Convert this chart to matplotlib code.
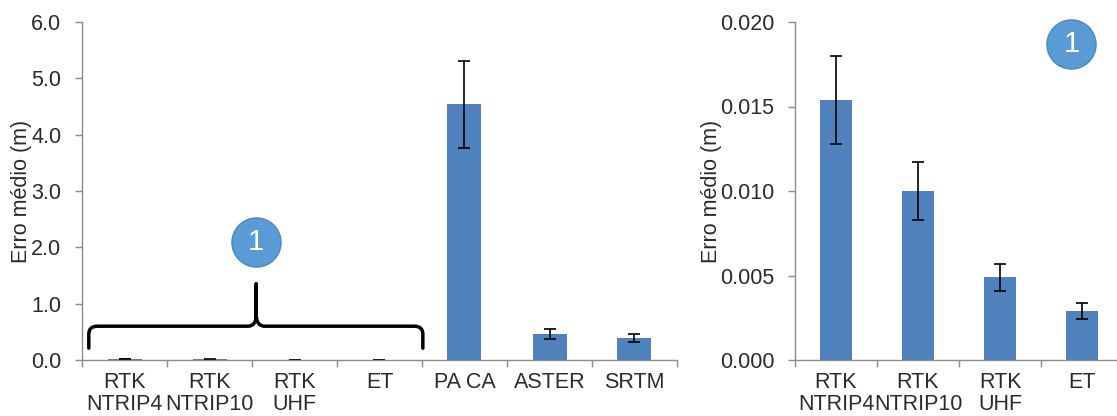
import numpy as np
import matplotlib.pyplot as plt
from matplotlib.path import Path
from matplotlib.patches import PathPatch

# dados (erro médio em metros e desvio)
left_labels = ['RTK\nNTRIP4', 'RTK\nNTRIP10', 'RTK\nUHF', 'ET', 'PA CA', 'ASTER', 'SRTM']
left_values = [0.0154, 0.0100, 0.0049, 0.0029, 4.54, 0.46, 0.39]
left_errors = [0.0026, 0.0017, 0.0008, 0.0005, 0.77, 0.09, 0.07]
left_yticks = [0, 1, 2, 3, 4, 5, 6]

right_labels = ['RTK\nNTRIP4', 'RTK\nNTRIP10', 'RTK\nUHF', 'ET']
right_values = [0.0154, 0.0100, 0.0049, 0.0029]
right_errors = [0.0026, 0.0017, 0.0008, 0.0005]
right_yticks = [0.000, 0.005, 0.010, 0.015, 0.020]

bar_color = '#4f81bd'
circle_color = '#5b9bd5'
text_color = '#2b2b2b'
axis_color = '#8c8c8c'

plt.rcParams['font.family'] = ['Liberation Sans', 'DejaVu Sans']
plt.rcParams['font.size'] = 15.5


def style_axes(ax, labels, values, errors, yticks, ymax, fmt):
    x = np.arange(len(labels))
    ax.bar(x, values, width=0.4, color=bar_color, yerr=errors,
           error_kw=dict(ecolor='black', elinewidth=1.2, capsize=4, capthick=1.2))
    ax.set_ylim(0, ymax)
    ax.set_yticks(yticks)
    ax.set_yticklabels([fmt.format(v) for v in yticks], color=text_color)
    # ticks nos limites das categorias, rótulos no centro
    ax.set_xticks(np.arange(len(labels) + 1) - 0.5)
    ax.set_xticklabels([])
    ax.set_xticks(x, minor=True)
    ax.set_xticklabels(labels, minor=True, color=text_color, linespacing=1.0)
    ax.tick_params(axis='x', which='major', length=5, color=axis_color, width=1)
    ax.tick_params(axis='x', which='minor', length=0, pad=9)
    ax.tick_params(axis='y', length=5, color=axis_color, width=1, pad=10)
    ax.set_xlim(-0.5, len(labels) - 0.5)
    for s in ['top', 'right']:
        ax.spines[s].set_visible(False)
    for s in ['left', 'bottom']:
        ax.spines[s].set_color(axis_color)
        ax.spines[s].set_linewidth(1)
    ax.set_ylabel('Erro médio (m)', color=text_color)


fig = plt.figure(figsize=(11.17, 4.16), dpi=100)
ax1 = fig.add_axes([82 / 1117, 56 / 416, 595 / 1117, 338 / 416])
ax2 = fig.add_axes([795 / 1117, 56 / 416, 328 / 1117, 338 / 416])

style_axes(ax1, left_labels, left_values, left_errors, left_yticks, 6, '{:.1f}')
style_axes(ax2, right_labels, right_values, right_errors, right_yticks, 0.020, '{:.3f}')
ax1.yaxis.set_label_coords(-0.084, 0.5)
ax2.yaxis.set_label_coords(-0.2226, 0.5)

# chave sobre os quatro primeiros métodos
x0, x1, xc = -0.42, 3.51, 1.55
yb, yh, yt = 0.21, 0.60, 1.35
verts = [(x0, yb), (x0, yh - 0.14), (x0, yh), (x0 + 0.1, yh),
         (xc - 0.1, yh), (xc, yh), (xc, yh + 0.2), (xc, yt),
         (xc, yh + 0.2), (xc, yh), (xc + 0.1, yh),
         (x1 - 0.1, yh), (x1, yh), (x1, yh - 0.14), (x1, yb)]
codes = [Path.MOVETO, Path.LINETO, Path.CURVE3, Path.CURVE3,
         Path.LINETO, Path.CURVE3, Path.CURVE3, Path.LINETO,
         Path.LINETO, Path.CURVE3, Path.CURVE3,
         Path.LINETO, Path.CURVE3, Path.CURVE3, Path.LINETO]
ax1.add_patch(PathPatch(Path(verts, codes), fill=False, edgecolor='black',
                        lw=2.5, capstyle='round', joinstyle='round'))

# marcadores "1"
for ax, cx, cy in [(ax1, 1.55, 2.09), (ax2, 2.87, 0.0187)]:
    ax.scatter([cx], [cy], s=1250, color=circle_color, edgecolor='#4a88c4',
               linewidth=1, zorder=5, clip_on=False)
    ax.text(cx, cy, '1', color='white', fontsize=21, ha='center', va='center',
            zorder=6)

plt.savefig('out.png', dpi=100)
